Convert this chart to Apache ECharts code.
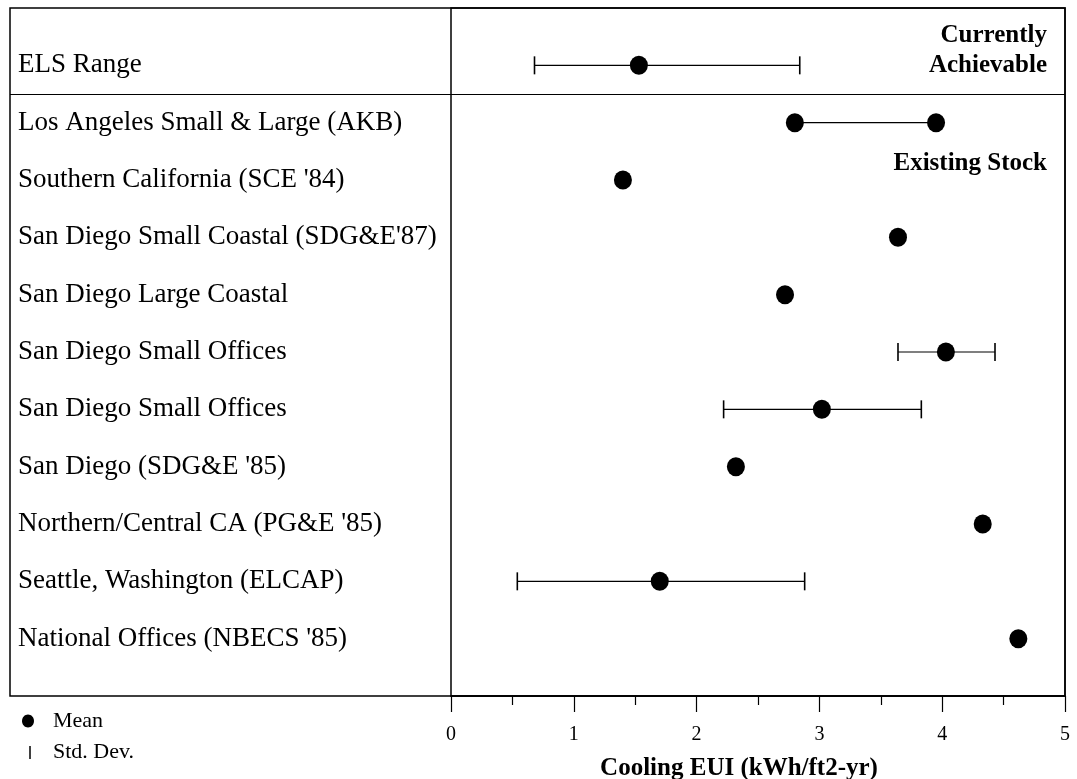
<!DOCTYPE html>
<html>
<head>
<meta charset="utf-8">
<script src="https://cdn.jsdelivr.net/npm/echarts@6/dist/echarts.min.js"></script>
<style>
  html, body { margin: 0; padding: 0; background: #fff; }
  #chart { width: 1077px; height: 779px; }
</style>
</head>
<body>
<div id="chart"></div>
<script>
// Row names, top to bottom (row 0 is the ELS benchmark, above the divider)
const rowLabels = [
  'ELS Range',
  'Los Angeles Small & Large (AKB)',
  "Southern California (SCE '84)",
  "San Diego Small Coastal (SDG&E'87)",
  'San Diego Large Coastal',
  'San Diego Small Offices',
  'San Diego Small Offices',
  "San Diego (SDG&E '85)",
  "Northern/Central CA (PG&E '85)",
  'Seattle, Washington (ELCAP)',
  "National Offices (NBECS '85)"
];

// Mean cooling EUI per row (kWh/ft2-yr); the Los Angeles row is a pair of values
const meanValues = [1.53, null, 1.40, 3.64, 2.72, 4.03, 3.02, 2.32, 4.33, 1.70, 4.62];
const laSmallLarge = [2.80, 3.95];

// Standard-deviation span per row (null where none is reported)
const stdLow  = [0.68, null, null, null, null, 3.64, 2.22, null, null, 0.54, null];
const stdHigh = [2.84, null, null, null, null, 4.43, 3.83, null, null, 2.88, null];

// x-axis tick labels
const xTicks = ['0', '1', '2', '3', '4', '5'];

const FONT = '"Liberation Serif", "Times New Roman", serif';

const meanPoints = [];
meanValues.forEach((v, i) => { if (v !== null) meanPoints.push([v, i]); });
laSmallLarge.forEach(v => meanPoints.push([v, 1]));

const spans = [];
stdLow.forEach((lo, i) => { if (lo !== null) spans.push([i, lo, stdHigh[i]]); });

const chart = echarts.init(document.getElementById('chart'), null, { renderer: 'canvas' });

const frame = { top: 8, right: 12, bottom: 83 };

chart.setOption({
  backgroundColor: '#fff',
  animation: false,
  textStyle: { fontFamily: FONT, color: '#000' },
  grid: [
    // outer frame holding the row names
    Object.assign({ left: 10, show: true, borderColor: '#000', borderWidth: 1.5, backgroundColor: 'transparent',
                    containLabel: false, outerBoundsMode: 'none' }, frame),
    // plotting area
    Object.assign({ left: 451, show: true, borderColor: '#000', borderWidth: 1.5, backgroundColor: 'transparent',
                    containLabel: false, outerBoundsMode: 'none' }, frame)
  ],
  xAxis: [
    { gridIndex: 0, type: 'value', min: 0, max: 1, show: false },
    {
      gridIndex: 1, type: 'value', min: 0, max: 5, interval: 1, position: 'bottom',
      axisLine: { show: true, onZero: false, lineStyle: { color: '#000', width: 1.5 } },
      axisTick: { show: true, inside: false, length: 16, lineStyle: { color: '#000', width: 1.2 } },
      minorTick: { show: true, splitNumber: 2, length: 9, lineStyle: { color: '#000', width: 1.2 } },
      splitLine: { show: false },
      axisLabel: {
        margin: 29, fontSize: 20, color: '#000', fontFamily: FONT,
        formatter: v => xTicks[Math.round(v)]
      },
      name: 'Cooling EUI (kWh/ft2-yr)',
      nameLocation: 'middle', nameGap: 60,
      nameTextStyle: { fontSize: 25, fontWeight: 'bold', color: '#000', fontFamily: FONT, padding: [0, 38, 0, 0] }
    }
  ],
  yAxis: [
    {
      gridIndex: 0, type: 'value', min: -1, max: 11, interval: 1, inverse: true,
      axisLine: { show: false }, axisTick: { show: false }, splitLine: { show: false },
      axisLabel: {
        inside: true, margin: 8, fontSize: 27, color: '#000', fontFamily: FONT,
        formatter: v => (v >= 0 && v < rowLabels.length) ? rowLabels[v] : ''
      }
    },
    { gridIndex: 1, type: 'value', min: -1, max: 11, inverse: true, show: false }
  ],
  series: [
    {
      // divider between the benchmark row and the existing-stock rows
      type: 'line', xAxisIndex: 0, yAxisIndex: 0, data: [], silent: true,
      markLine: {
        symbol: 'none', silent: true, label: { show: false },
        lineStyle: { color: '#000', width: 1.2, type: 'solid', opacity: 1 },
        data: [{ yAxis: 0.5 }]
      }
    },
    {
      // standard deviation whiskers
      type: 'custom', xAxisIndex: 1, yAxisIndex: 1, data: spans,
      renderItem: (params, api) => {
        const y = api.value(0);
        const a = api.coord([api.value(1), y]);
        const b = api.coord([api.value(2), y]);
        const cap = 9;
        const bar = { stroke: '#000', lineWidth: 1.1 };
        const capStyle = { stroke: '#000', lineWidth: 1.6 };
        return {
          type: 'group',
          children: [
            { type: 'line', shape: { x1: a[0], y1: a[1], x2: b[0], y2: b[1] }, style: bar },
            { type: 'line', shape: { x1: a[0], y1: a[1] - cap, x2: a[0], y2: a[1] + cap }, style: capStyle },
            { type: 'line', shape: { x1: b[0], y1: b[1] - cap, x2: b[0], y2: b[1] + cap }, style: capStyle }
          ]
        };
      }
    },
    {
      // Los Angeles small vs large pair
      type: 'line', xAxisIndex: 1, yAxisIndex: 1,
      data: laSmallLarge.map(v => [v, 1]),
      symbol: 'none', lineStyle: { color: '#000', width: 1.2, opacity: 1 }
    },
    {
      type: 'scatter', xAxisIndex: 1, yAxisIndex: 1, data: meanPoints,
      symbol: 'circle', symbolSize: [18, 19],
      itemStyle: { color: '#000', opacity: 1 }
    }
  ],
  graphic: [
    { type: 'text', x: 1047, y: 36, style: { text: 'Currently', align: 'right', verticalAlign: 'middle', fill: '#000', font: 'bold 25px ' + FONT } },
    { type: 'text', x: 1047, y: 66, style: { text: 'Achievable', align: 'right', verticalAlign: 'middle', fill: '#000', font: 'bold 25px ' + FONT } },
    { type: 'text', x: 1047, y: 164, style: { text: 'Existing Stock', align: 'right', verticalAlign: 'middle', fill: '#000', font: 'bold 25px ' + FONT } },
    // legend
    { type: 'ellipse', shape: { cx: 28, cy: 721, rx: 6, ry: 6.5 }, style: { fill: '#000' } },
    { type: 'text', x: 53, y: 721, style: { text: 'Mean', verticalAlign: 'middle', fill: '#000', font: '22px ' + FONT } },
    { type: 'line', shape: { x1: 30, y1: 746, x2: 30, y2: 759 }, style: { stroke: '#000', lineWidth: 1.5 } },
    { type: 'text', x: 53, y: 752, style: { text: 'Std. Dev.', verticalAlign: 'middle', fill: '#000', font: '22px ' + FONT } }
  ]
});
</script>
</body>
</html>
